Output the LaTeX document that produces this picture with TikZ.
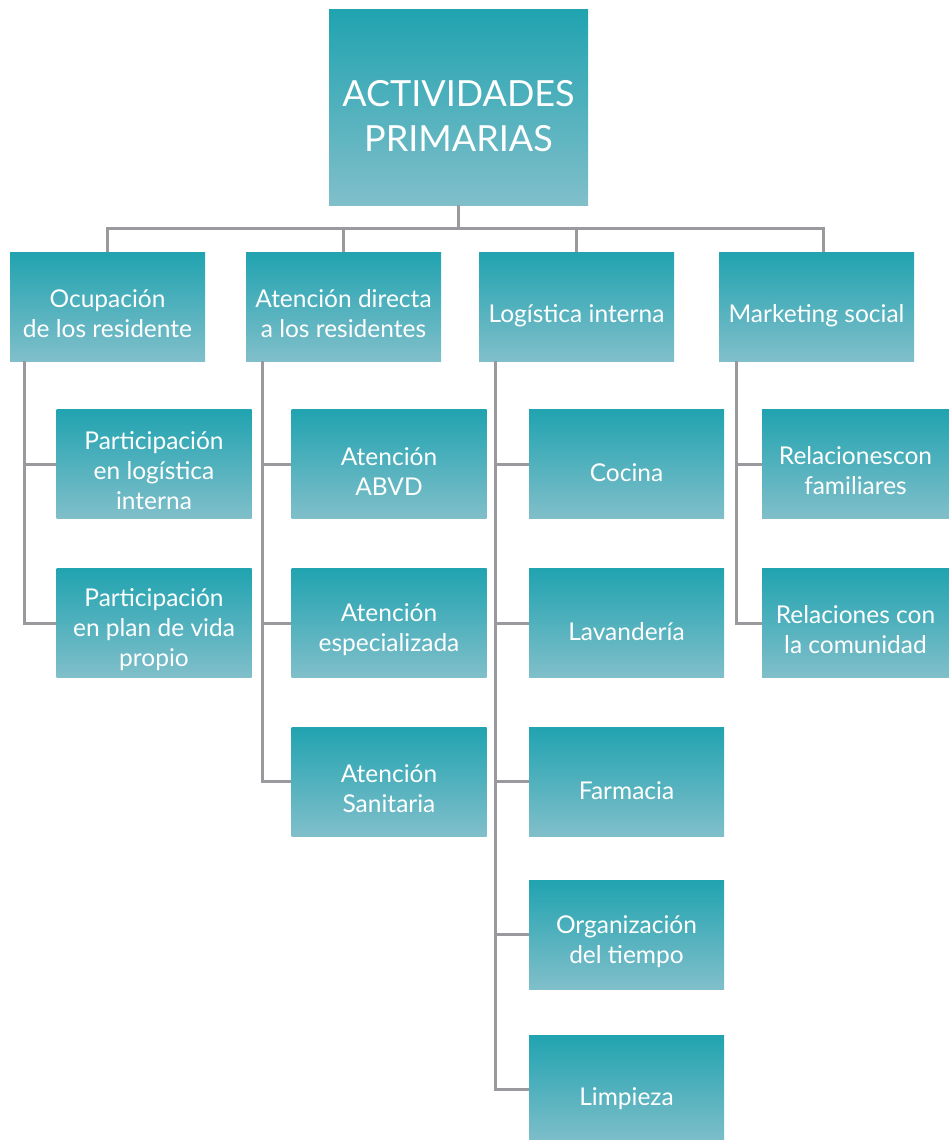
\documentclass[tikz,border=0pt]{standalone}
\usepackage{fontspec}
\setmainfont{Lato}
\usetikzlibrary{calc}

\definecolor{tealtop}{HTML}{21A3B0}
\definecolor{tealbot}{HTML}{80BFCA}
\definecolor{linkgray}{HTML}{9A9A9E}

% strut that pushes the text a little lower in its box
\newcommand{\boxlift}{\rule{0pt}{32pt}}
\newcommand{\rootlift}{\rule{0pt}{44pt}}

\tikzset{
  box/.style={top color=tealtop, bottom color=tealbot, text=white,
    minimum width=195pt, minimum height=109pt, inner sep=0pt,
    align=center, font=\fontsize{24.5}{30}\selectfont,
    execute at begin node={\rule{0pt}{36pt}}},
  rootbox/.style={box, minimum width=259pt, minimum height=195pt,
    font=\fontsize{36}{45}\selectfont},
  link/.style={draw=linkgray, line width=3pt}
}

\begin{document}
\begin{tikzpicture}[x=1pt, y=-1pt]
\useasboundingbox (0,0) rectangle (949,1140);

% main box and first level
\node[rootbox] (root) at (458.5,107.5) {\rootlift ACTIVIDADES\\PRIMARIAS};
\node[box] (ocup) at (107.5,306.5) {\boxlift Ocupación\\de los residente};
\node[box] (aten) at (343.5,306.5) {\boxlift Atención directa\\a los residentes};
\node[box] (logi) at (576.5,306.5) {Logística interna};
\node[box] (mark) at (816.5,306.5) {Marketing social};

% second level
\node[box] (ocupA) at (154,464) {\boxlift Participación\\en logística\\interna};
\node[box] (ocupB) at (154,623) {\boxlift Participación\\en plan de vida\\propio};

\node[box] (atenA) at (389,464) {\boxlift Atención\\ABVD};
\node[box] (atenB) at (389,623) {\boxlift Atención\\especializada};
\node[box] (atenC) at (389,781.5) {\boxlift Atención\\Sanitaria};

\node[box] (logiA) at (626.5,464) {Cocina};
\node[box] (logiB) at (626.5,623) {Lavandería};
\node[box] (logiC) at (626.5,781.5) {Farmacia};
\node[box] (logiD) at (626.5,934.5) {\boxlift Organización\\del tiempo};
\node[box] (logiE) at (626.5,1089.5) {Limpieza};

\node[box, minimum width=187pt] (markA) at (855.5,464) {\boxlift Relacionescon\\familiares};
\node[box, minimum width=187pt] (markB) at (855.5,623) {\boxlift Relaciones con\\la comunidad};

% bus under the main box
\coordinate (bus) at (458.5,228);
\draw[link] (root.south) -- (bus);
\draw[link] (bus) -| (ocup.north);
\draw[link] (bus) -| (aten.north);
\draw[link] (bus) -| (logi.north);
\draw[link] (bus) -| ($(mark.north)+(7,0)$);

% trunks
\coordinate (ocupT) at ($(ocup.south west)+(15,0)$);
\coordinate (atenT) at ($(aten.south west)+(17,0)$);
\coordinate (logiT) at ($(logi.south west)+(17,0)$);
\coordinate (markT) at ($(mark.south west)+(18,0)$);

\draw[link] (ocupT) |- (ocupB.west);
\draw[link] (atenT) |- (atenC.west);
\draw[link] (logiT) |- (logiE.west);
\draw[link] (markT) |- (markB.west);

\draw[link] (ocupA.west) -- (ocupA.west -| ocupT);
\foreach \b in {atenA, atenB}
  \draw[link] (\b.west) -- (\b.west -| atenT);
\foreach \b in {logiA, logiB, logiC, logiD}
  \draw[link] (\b.west) -- (\b.west -| logiT);
\draw[link] (markA.west) -- (markA.west -| markT);

\end{tikzpicture}
\end{document}
